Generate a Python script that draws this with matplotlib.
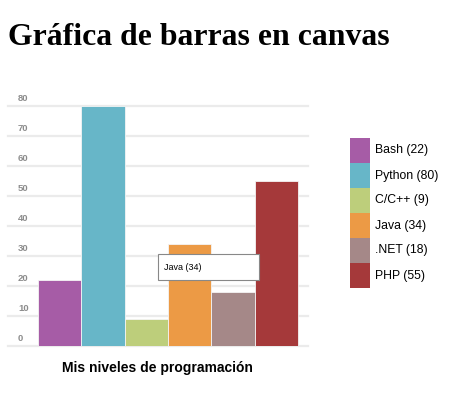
import numpy as np
import matplotlib
matplotlib.use('Agg')
import matplotlib.pyplot as plt
from matplotlib.patches import Rectangle

# datos de la gráfica
lenguajes = ['Bash', 'Python', 'C/C++', 'Java', '.NET', 'PHP']
niveles = [22, 80, 9, 34, 18, 55]
colores = ['#A65CA6', '#67B6C8', '#BDCE7B', '#EC9A45', '#A58888', '#A5393A']
ticks_y = [0, 10, 20, 30, 40, 50, 60, 70, 80]
tooltip = 'Java (34)'

W, H = 449, 398
fig = plt.figure(figsize=(W / 100, H / 100), dpi=100)
fig.patch.set_facecolor('white')

def px_box(x0, y0, x1, y1):
    # caja en pixeles (origen arriba-izquierda) -> fracción de figura
    return [x0 / W, 1 - y1 / H, (x1 - x0) / W, (y1 - y0) / H]

# ejes principales: rejilla de x=8 a 308, y=0 en 346, y=80 en 105.7
ax = fig.add_axes(px_box(8, 105.7, 308, 346))
x = np.arange(len(lenguajes))
ax.bar(x, niveles, width=1.0, color=colores, edgecolor='#f4f4f4', linewidth=0.6, zorder=3)
ax.set_xlim(-1.192, 5.731)
ax.set_ylim(0, 80)
ax.axis('off')

for v in ticks_y:
    ax.axhline(v, color='#ebebeb', linewidth=1.6, zorder=1, clip_on=False)
    ax.annotate(str(v), xy=(0, v), xycoords=('axes fraction', 'data'),
                xytext=(10, 7.5), textcoords='offset pixels',
                ha='left', va='center', fontsize=6.8, fontweight='bold',
                color='#8c8c8c', family='Liberation Sans')

# tooltip
ax.add_patch(Rectangle((0.5, 0.273), 0.337, 0.108, transform=ax.transAxes,
                       facecolor='white', edgecolor='#888888', linewidth=0.8,
                       zorder=5, clip_on=False))
ax.text(0.52, 0.327, tooltip, transform=ax.transAxes, ha='left', va='center',
        fontsize=6.5, color='black', family='Liberation Sans', zorder=6)

# título del eje
fig.text(157.5 / W, 1 - 368 / H, 'Mis niveles de programación', ha='center', va='center',
         fontsize=10, fontweight='bold', family='Liberation Sans')

# título principal
fig.text(8 / W, 1 - 45 / H, 'Gráfica de barras en canvas', ha='left', va='baseline',
         fontsize=22.9, fontweight='bold', family='Liberation Serif')

# leyenda
lg = fig.add_axes(px_box(350, 138, 449, 288))
lg.barh(x, [20] * len(lenguajes), height=1.0, left=0, color=colores, linewidth=0)
lg.set_xlim(0, 99)
lg.set_ylim(len(lenguajes) - 0.5, -0.5)
lg.axis('off')
for i, (nom, val) in enumerate(zip(lenguajes, niveles)):
    lg.text(25, i, '%s (%d)' % (nom, val), ha='left', va='center',
            fontsize=8.8, family='Liberation Sans')

fig.savefig('out.png', dpi=100)
